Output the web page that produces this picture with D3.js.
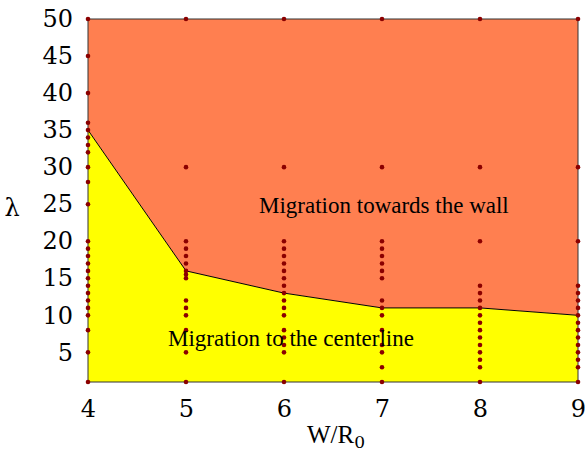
<!DOCTYPE html>
<html>
<head>
<meta charset="utf-8">
<script src="https://cdn.jsdelivr.net/npm/d3@7"></script>
<style>
  html, body { margin: 0; padding: 0; background: #fff; }
  svg { display: block; }
</style>
</head>
<body>
<svg id="chart" width="585" height="453"></svg>
<script>
// Channel width ratios and the critical lambda separating the two migration regimes
const widthRatio = [4, 5, 6, 7, 8, 9];
const criticalLambda = [35, 16, 13, 11, 11, 10];

// Simulated lambda values at each width ratio
const lambdaAt4 = [1, 5, 8, 10, 11, 12, 13, 14, 15, 16, 17, 18, 19, 20, 25, 28, 30, 32, 33, 34, 35, 36, 40, 45, 50];
const lambdaAt5 = [1, 5, 8, 10, 11, 12, 15, 15.5, 16, 17, 18, 19, 20, 30, 50];
const lambdaAt6 = [1, 5, 6, 7, 8, 10, 11, 12, 13, 14, 15, 16, 17, 18, 19, 20, 30, 50];
const lambdaAt7 = [1, 3, 5, 6, 8, 10, 11, 12, 15, 16, 17, 18, 19, 20, 30, 50];
const lambdaAt8 = [1, 3, 4, 5, 6, 7, 8, 9, 10, 11, 12, 13, 14, 20, 30, 50];
const lambdaAt9 = [1, 3, 4, 5, 6, 7, 8, 9, 10, 11, 12, 13, 14, 20, 30, 50];
const sampledLambda = [lambdaAt4, lambdaAt5, lambdaAt6, lambdaAt7, lambdaAt8, lambdaAt9];

const xTicks = [4, 5, 6, 7, 8, 9];
const yTicks = [5, 10, 15, 20, 25, 30, 35, 40, 45, 50];

const SERIF = "'Liberation Serif', 'Times New Roman', Times, serif";
const NUM_SERIF = "'DejaVu Serif', serif";

const svg = d3.select("#chart");
const margin = { left: 88, right: 7, top: 19, bottom: 71 };
const W = 585, H = 453;

const x = d3.scaleLinear().domain([4, 9]).range([margin.left, W - margin.right]);
const y = d3.scaleLinear().domain([1, 50]).range([H - margin.bottom, margin.top]);

const boundary = widthRatio.map((w, i) => ({ w, lam: criticalLambda[i] }));

// Region above the critical curve: migration towards the wall
svg.append("path")
  .datum(boundary)
  .attr("fill", "#ff7f50")
  .attr("d", d3.area().x(d => x(d.w)).y0(y(50)).y1(d => y(d.lam)));

// Region below the critical curve: migration to the centerline
svg.append("path")
  .datum(boundary)
  .attr("fill", "#ffff00")
  .attr("d", d3.area().x(d => x(d.w)).y0(y(1)).y1(d => y(d.lam)));

// Critical curve
svg.append("path")
  .datum(boundary)
  .attr("fill", "none")
  .attr("stroke", "#000")
  .attr("stroke-width", 1)
  .attr("d", d3.line().x(d => x(d.w)).y(d => y(d.lam)));

// Plot frame
svg.append("rect")
  .attr("x", x(4)).attr("y", y(50))
  .attr("width", x(9) - x(4)).attr("height", y(1) - y(50))
  .attr("fill", "none").attr("stroke", "#333").attr("stroke-width", 1);

// Axes (labels only, no tick marks)
const xAxis = svg.append("g")
  .attr("transform", `translate(0,${y(1)})`)
  .call(d3.axisBottom(x).tickValues(xTicks).tickFormat(d3.format("d")).tickSize(0).tickPadding(18));
const yAxis = svg.append("g")
  .attr("transform", `translate(${x(4)},0)`)
  .call(d3.axisLeft(y).tickValues(yTicks).tickFormat(d3.format("d")).tickSize(0).tickPadding(15));
[xAxis, yAxis].forEach(g => {
  g.attr("font-size", 24).attr("font-family", NUM_SERIF);
  g.select(".domain").remove();
  g.selectAll("text")
    .style("font-family", NUM_SERIF)
    .style("font-size", "24px")
    .attr("fill", "#000");
});

// Simulation points
const points = [];
sampledLambda.forEach((arr, i) => arr.forEach(l => points.push({ w: widthRatio[i], lam: l })));
svg.append("g").selectAll("circle")
  .data(points)
  .join("circle")
  .attr("cx", d => x(d.w))
  .attr("cy", d => y(d.lam))
  .attr("r", 2.3)
  .attr("fill", "#8b0000");

// Region annotations
svg.append("text")
  .attr("x", 259).attr("y", 213)
  .style("font-family", SERIF).style("font-size", "23px")
  .text("Migration towards the wall");
svg.append("text")
  .attr("x", 168).attr("y", 346)
  .style("font-family", SERIF).style("font-size", "23px")
  .text("Migration to the centerline");

// Axis titles
svg.append("text")
  .attr("x", 12).attr("y", 216)
  .attr("text-anchor", "middle")
  .style("font-family", NUM_SERIF).style("font-size", "24px")
  .text("λ");
const xTitle = svg.append("text")
  .attr("x", 307).attr("y", 443)
  .style("font-family", SERIF).style("font-size", "25px");
xTitle.append("tspan").text("W/R");
xTitle.append("tspan").attr("dy", 5).style("font-family", NUM_SERIF).style("font-size", "17px").text("0");
</script>
</body>
</html>
